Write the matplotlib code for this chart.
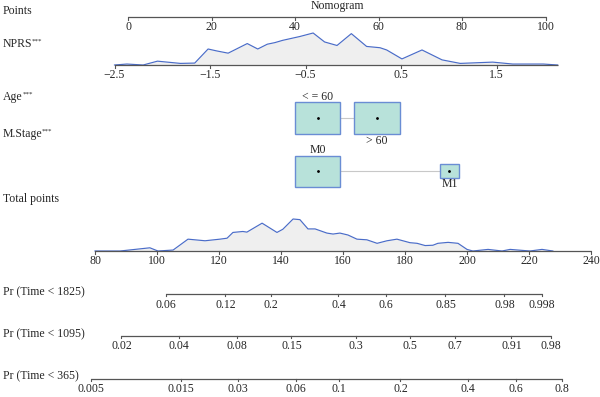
import matplotlib.pyplot as plt
import numpy as np
from matplotlib.patches import Rectangle

plt.rcParams['font.family'] = ['Liberation Serif', 'DejaVu Serif']

# ---- data ----
points_ticks = [0, 20, 40, 60, 80, 100]

nprs_ticks = [-2.5, -1.5, -0.5, 0.5, 1.5]
nprs_range = [-2.5, 2.14]
nprs_x = [-2.5, -2.37, -2.2, -2.05, -1.81, -1.66, -1.52, -1.43, -1.31, -1.11,
          -1.0, -0.9, -0.82, -0.74, -0.56, -0.42, -0.3, -0.17, -0.02, 0.14,
          0.28, 0.35, 0.51, 0.72, 0.93, 1.12, 1.46, 1.67, 1.99, 2.14]
nprs_dens = [0, 0.03, 0, 0.12, 0.05, 0.06, 0.50, 0.44, 0.37, 0.67,
             0.50, 0.65, 0.70, 0.77, 0.89, 1.0, 0.72, 0.61, 0.98, 0.58,
             0.54, 0.47, 0.19, 0.47, 0.16, 0.05, 0.09, 0.03, 0.03, 0]

age_levels = ['< = 60', '> 60']
age_points = [45.4, 59.7]
age_freq = [0.50, 0.50]

mstage_levels = ['M0', 'M1']
mstage_points = [45.4, 77.0]
mstage_freq = [0.84, 0.16]

total_ticks = [80, 100, 120, 140, 160, 180, 200, 220, 240]
total_x = [80, 88.1, 97.7, 100.3, 105.2, 110, 115.5, 120.3, 122.6, 124.5,
           127.7, 129, 133.9, 138.7, 140.6, 143.9, 146.1, 148.7, 151, 154.8,
           156.8, 159, 161.6, 164.5, 167.7, 171, 174.2, 177.4, 181.6, 183.9,
           186.5, 189, 190.6, 193.9, 197.1, 200, 201.9, 206.8, 211.3, 213.9,
           220.3, 224.2, 227.7]
total_dens = [0, 0, 0.10, 0, 0.03, 0.37, 0.32, 0.37, 0.40, 0.58,
              0.61, 0.59, 0.87, 0.58, 0.68, 1.0, 0.98, 0.69, 0.69, 0.56,
              0.53, 0.56, 0.50, 0.37, 0.35, 0.24, 0.32, 0.37, 0.26, 0.24,
              0.17, 0.18, 0.24, 0.27, 0.24, 0.05, 0, 0.05, 0, 0.05,
              0, 0.05, 0]

pr_1825_ticks = [0.06, 0.12, 0.2, 0.4, 0.6, 0.85, 0.98, 0.998]
pr_1095_ticks = [0.02, 0.04, 0.08, 0.15, 0.3, 0.5, 0.7, 0.91, 0.98]
pr_365_ticks = [0.005, 0.015, 0.03, 0.06, 0.1, 0.2, 0.4, 0.6, 0.8]

# cox model: cloglog(P) = beta * (total - t0)
beta = 0.038
t0 = {'1825': 176.2, '1095': 191.2, '365': 218.0}

# ---- scales (pixel layout) ----
def pts_px(v):
    return 128 + 4.175 * np.asarray(v)

def nprs_px(v):
    return 114.5 + 95.5 * (np.asarray(v) + 2.5)

def total_px(v):
    return 95 + 3.1 * (np.asarray(v) - 80)

def pr_px(p, key):
    p = np.asarray(p)
    return total_px(t0[key] + np.log(-np.log(1 - p)) / beta)

txt_col = '#262626'
ax_col = '#555555'
fs = 8.5

fig = plt.figure(figsize=(6, 3.97), dpi=100)
ax = fig.add_axes([0, 0, 1, 1])
ax.set_xlim(0, 600)
ax.set_ylim(397, 0)
ax.axis('off')


def draw_axis(y, xs, labels, x0=None, x1=None, tick=3):
    x0 = xs[0] if x0 is None else x0
    x1 = xs[-1] if x1 is None else x1
    ax.plot([x0, x1], [y, y], color=ax_col, lw=0.9, solid_capstyle='butt')
    for px, lab in zip(xs, labels):
        ax.plot([px, px], [y, y + tick], color=ax_col, lw=0.8)
        ax.text(px, y + 10.5, lab, ha='center', va='center', fontsize=fs, color=txt_col)


def row_label(y, name, stars=False):
    t = ax.text(3, y, name, ha='left', va='center', fontsize=fs, color=txt_col)
    if stars:
        ax.annotate('***', xy=(0.98, 0.95), xycoords=t, ha='left', va='top',
                    fontsize=5, color=txt_col)


def density(y, xs, dens, height=32):
    xs = np.asarray(xs)
    top = y - height * np.asarray(dens)
    ax.fill_between(xs, y, top, color='#efefef', lw=0, zorder=1)
    ax.plot(xs, top, color='#4a6cc8', lw=0.85, zorder=2)


def boxes(y, centers, freqs, labels, w=45.5, h=32):
    fmax = max(freqs)
    ax.plot([centers[0], centers[-1]], [y, y], color='#c8c8c8', lw=0.8, zorder=1)
    for i, (c, f, lab) in enumerate(zip(centers, freqs, labels)):
        s = np.sqrt(f / fmax)
        bw, bh = w * s, h * s
        ax.add_patch(Rectangle((c - bw / 2, y - bh / 2), bw, bh, facecolor='#b8e2da',
                               edgecolor='#6a8dd4', lw=1.0, zorder=2))
        ax.plot(c, y, 'o', color='black', ms=1.0, zorder=3)
        if i % 2 == 0:
            ax.text(c, y - bh / 2 - 5.5, lab, ha='center', va='center', fontsize=fs, color=txt_col)
        else:
            ax.text(c, y + bh / 2 + 6.5, lab, ha='center', va='center', fontsize=fs, color=txt_col)


# title
ax.text(337, 6.5, 'Nomogram', ha='center', va='center', fontsize=fs, color=txt_col)

# Points
row_label(11, 'Points')
draw_axis(16.7, pts_px(points_ticks), [f'{v:g}' for v in points_ticks])

# NPRS
row_label(44, 'NPRS', stars=True)
density(65, nprs_px(nprs_x), nprs_dens)
draw_axis(65, nprs_px(nprs_ticks), [f'{v:g}'.replace('-', '\u2212') for v in nprs_ticks],
          x0=nprs_px(nprs_range[0]), x1=nprs_px(nprs_range[1]))

# Age
row_label(97, 'Age', stars=True)
boxes(118.3, pts_px(age_points), age_freq, age_levels)

# M.Stage
row_label(134, 'M.Stage', stars=True)
boxes(171, pts_px(mstage_points), mstage_freq, mstage_levels, h=31)

# Total points
row_label(199, 'Total points')
density(251, total_px(total_x), total_dens)
draw_axis(251, total_px(total_ticks), [f'{v:g}' for v in total_ticks])

# probabilities
for y_lab, y_ax, key, ticks in [(292.5, 294, '1825', pr_1825_ticks),
                                (334, 335.7, '1095', pr_1095_ticks),
                                (376.5, 379, '365', pr_365_ticks)]:
    row_label(y_lab, f'Pr (Time < {key})')
    draw_axis(y_ax, pr_px(ticks, key), [f'{v:g}' for v in ticks], tick=2)

fig.savefig('out.png', dpi=100)
